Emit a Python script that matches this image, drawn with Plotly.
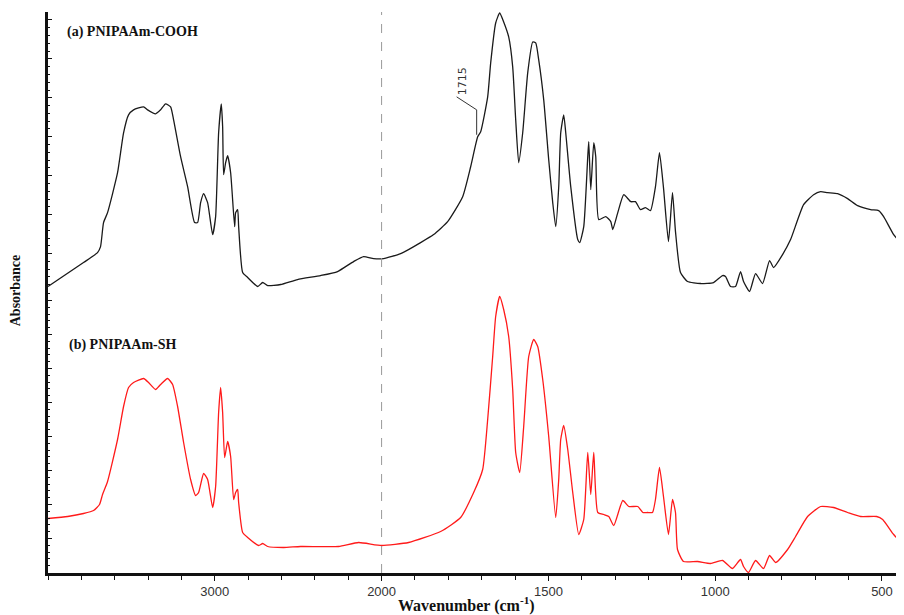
import plotly.graph_objects as go
from plotly.subplots import make_subplots

# ---------------- data ----------------
wn_cooh = [4000,3787,3703,3685,3667,3643,3583,3547,3517,3487,
           3427,3403,3355,3325,3295,3265,3247,3205,3163,3121,
           3103,3085,3067,3043,3013,2995,2977,2961,2953,2947,
           2935,2923,2905,2881,2875,2863,2857,2833,2803,2743,
           2713,2683,2605,2504,2366,2264,2168,2108,2048,1994,
           1943,1883,1844,1802,1757,1733,1712,1703,1682,1673,
           1658,1646,1634,1619,1607,1598,1589,1577,1562,1547,
           1538,1529,1514,1499,1487,1478,1469,1463,1454,1448,
           1433,1412,1406,1394,1382,1379,1373,1364,1358,1349,
           1328,1313,1307,1292,1274,1253,1239,1224,1209,1194,
           1179,1167,1155,1140,1128,1119,1104,1083,1044,1005,
           978,969,954,939,924,915,897,879,858,837,
           825,798,774,735,705,684,663,633,603,573,
           534,510,495,465,438,432]
abs_cooh = [0.06,0.30,0.40,0.46,0.70,0.80,1.20,1.60,1.78,1.83,
            1.86,1.83,1.79,1.83,1.89,1.86,1.73,1.36,1.06,0.70,
            0.70,0.90,0.99,0.90,0.58,0.76,1.60,1.89,1.66,1.18,
            1.30,1.37,1.20,0.66,0.80,0.83,0.66,0.20,0.15,0.06,
            0.10,0.07,0.08,0.13,0.17,0.21,0.31,0.36,0.34,0.34,
            0.39,0.50,0.58,0.71,0.96,1.26,1.56,1.61,1.96,2.30,
            2.70,2.80,2.71,2.56,2.26,1.73,1.30,1.60,2.20,2.51,
            2.50,2.33,1.93,1.33,0.90,0.66,1.06,1.60,1.78,1.60,
            1.06,0.53,0.50,0.66,1.36,1.51,1.03,1.50,1.36,0.73,
            0.76,0.71,0.63,0.80,0.98,0.91,0.91,0.83,0.85,0.82,
            1.06,1.40,1.05,0.51,1.00,0.61,0.20,0.11,0.09,0.10,
            0.17,0.16,0.06,0.06,0.21,0.11,0.01,0.19,0.09,0.32,
            0.25,0.38,0.53,0.88,0.98,1.01,1.00,0.99,0.94,0.87,
            0.83,0.82,0.76,0.58,0.47,0.43]

wn_sh = [4000,3882,3787,3727,3691,3673,3643,3583,3547,3517,
         3487,3427,3397,3355,3325,3283,3253,3223,3187,3145,
         3115,3097,3067,3043,3013,2995,2977,2965,2953,2941,
         2923,2905,2887,2875,2863,2857,2833,2803,2737,2713,
         2683,2588,2486,2258,2138,2000,
         1919,1823,1763,1724,1697,1682,1667,1658,1646,1634,
         1619,1607,1598,1586,1574,1559,1544,1532,1517,1499,
         1478,1469,1463,1454,1442,1427,1409,1394,1382,1373,
         1364,1352,1334,1319,1304,1277,1259,1232,1217,1203,
         1188,1179,1167,1155,1140,1128,1119,1113,1095,1053,
         1014,978,948,924,915,900,879,855,837,819,
         783,759,723,684,645,603,564,516,498,465,
         444,432]
abs_sh = [0.54,0.56,0.59,0.62,0.68,0.78,0.91,1.33,1.66,1.85,
          1.90,1.94,1.90,1.83,1.88,1.94,1.88,1.66,1.30,0.93,
          0.77,0.80,0.99,0.93,0.65,0.86,1.60,1.85,1.60,1.15,
          1.31,1.16,0.73,0.80,0.83,0.70,0.40,0.35,0.27,0.29,
          0.26,0.25,0.26,0.26,0.30,0.27,
          0.30,0.41,0.55,0.80,1.03,1.53,2.16,2.56,2.76,2.63,
          2.36,1.83,1.20,1.00,1.46,2.16,2.33,2.26,1.93,1.36,
          0.55,0.93,1.33,1.47,1.23,0.80,0.38,0.53,1.20,0.78,
          1.20,0.60,0.58,0.56,0.47,0.72,0.66,0.66,0.60,0.60,
          0.60,0.73,1.05,0.76,0.38,0.73,0.60,0.23,0.11,0.11,
          0.09,0.12,0.04,0.13,0.06,0.00,0.12,0.04,0.17,0.10,
          0.23,0.36,0.56,0.66,0.65,0.60,0.56,0.56,0.53,0.38,
          0.31,0.31]

tick_wn = [3000, 2000, 1500, 1000, 500]
tick_labels = ["3000", "2000", "1500", "1000", "500"]
label_a = "(a) PNIPAAm-COOH"
label_b = "(b) PNIPAAm-SH"
peak_wn = 1715
peak_label = "1715"


# FTIR axis: scale halves above 2000 cm-1 (compressed region)
def u(w):
    return (4000 - w) / 2.0 if w >= 2000 else 1000 + (2000 - w)


fig = make_subplots(rows=2, cols=1, shared_xaxes=True, vertical_spacing=0)

fig.add_trace(go.Scatter(x=[u(w) for w in wn_cooh], y=abs_cooh, mode="lines",
                         line=dict(color="#1a1a1a", width=1.3, shape="spline", smoothing=0.5),
                         showlegend=False, hoverinfo="skip"), row=1, col=1)
fig.add_trace(go.Scatter(x=[u(w) for w in wn_sh], y=abs_sh, mode="lines",
                         line=dict(color="#ff1a1a", width=1.3, shape="spline", smoothing=0.5),
                         showlegend=False, hoverinfo="skip"), row=2, col=1)

XR = [0, 2566]
tickfont = dict(family="Liberation Sans Narrow, Arial Narrow, Liberation Sans, sans-serif",
                size=13, color="#333333")

fig.update_xaxes(range=XR, showgrid=False, zeroline=False, row=1, col=1,
                 showline=False, ticks="", showticklabels=False)
fig.update_xaxes(range=XR, showgrid=False, zeroline=False, row=2, col=1,
                 showline=True, linecolor="#111111", linewidth=2.5,
                 ticks="outside", ticklen=5, tickwidth=1, tickcolor="#111111",
                 tickmode="array", tickvals=[u(w) for w in tick_wn], ticktext=tick_labels,
                 tickfont=tickfont,
                 minor=dict(ticks="outside", ticklen=4, tickwidth=1, tickcolor="#111111",
                            tickmode="linear", tick0=0, dtick=100))

fig.update_yaxes(range=[0, 2.81], row=1, col=1, showgrid=False, zeroline=False,
                 showline=True, linecolor="#111111", linewidth=2.5,
                 ticks="inside", ticklen=4, tickwidth=1, tickcolor="#111111",
                 tick0=0, dtick=0.39, showticklabels=False,
                 minor=dict(ticks="inside", ticklen=2, dtick=0.078, tickcolor="#111111"))
fig.update_yaxes(range=[-0.005, 2.80], row=2, col=1, showgrid=False, zeroline=False,
                 showline=True, linecolor="#111111", linewidth=2.5,
                 ticks="inside", ticklen=4, tickwidth=1, tickcolor="#111111",
                 tick0=0, dtick=0.34, showticklabels=False,
                 minor=dict(ticks="inside", ticklen=2, dtick=0.068, tickcolor="#111111"))

# dashed scale-change marker at 2000 cm-1
fig.add_shape(type="line", xref="x", yref="paper", x0=u(2000), x1=u(2000), y0=0, y1=1,
              line=dict(color="#9a9a9a", width=1, dash="dash"))

# 1715 peak marker
fig.add_shape(type="line", xref="x", yref="y", x0=u(peak_wn), x1=u(peak_wn), y0=1.58, y1=1.83,
              line=dict(color="#333333", width=1))
fig.add_shape(type="line", xref="x", yref="y", x0=u(peak_wn), x1=u(peak_wn + 60), y0=1.83, y1=1.96,
              line=dict(color="#333333", width=1))
fig.add_annotation(xref="x", yref="y", x=u(peak_wn + 40), y=1.96, text=peak_label,
                   textangle=-90, showarrow=False, xanchor="center", yanchor="bottom",
                   font=dict(family="DejaVu Sans, sans-serif", size=11, color="#333333"))

serif_bold = dict(family="Liberation Serif, Times New Roman, serif", size=14,
                  color="#111111", weight="bold")
fig.add_annotation(xref="paper", yref="paper", x=0.02, y=0.964, text=label_a,
                   showarrow=False, xanchor="left", yanchor="middle", font=serif_bold)
fig.add_annotation(xref="paper", yref="paper", x=0.022, y=0.406, text=label_b,
                   showarrow=False, xanchor="left", yanchor="middle", font=serif_bold)

fig.add_annotation(xref="paper", yref="paper", x=0, xshift=-33, y=0.504, text="Absorbance",
                   textangle=-90, showarrow=False, xanchor="center", yanchor="middle",
                   font=dict(family="Liberation Serif, Times New Roman, serif", size=14,
                             color="#111111", weight="bold"))
fig.add_annotation(xref="paper", yref="paper", x=0.489, y=-0.057,
                   text="Wavenumber (cm<sup>-1</sup>)",
                   showarrow=False, xanchor="center", yanchor="middle",
                   font=dict(family="Liberation Serif, Times New Roman, serif", size=16,
                             color="#111111", weight="bold"))

# page body adds an 8 px offset; size the figure so the plot lands where the reference has it
fig.update_layout(width=896, height=607,
                  margin=dict(l=40, r=0, t=4, b=42),
                  paper_bgcolor="white", plot_bgcolor="white",
                  showlegend=False)

fig.write_html("out.html")
